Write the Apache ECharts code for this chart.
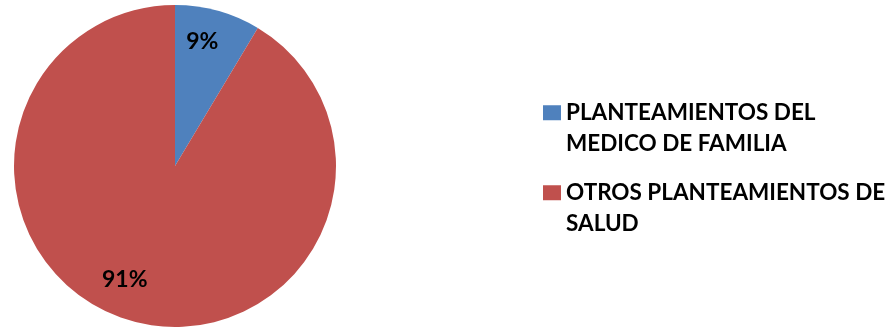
<!DOCTYPE html>
<html><head><meta charset="utf-8">
<script src="https://cdn.jsdelivr.net/npm/echarts@6/dist/echarts.min.js"></script>
<style>html,body{margin:0;padding:0;background:#fff}#c{width:896px;height:328px}</style>
</head><body><div id="c"></div>
<script>
var categories = ['PLANTEAMIENTOS DEL\nMEDICO DE FAMILIA', 'OTROS PLANTEAMIENTOS DE\nSALUD'];
var values = [8.6, 91.4];
var colors = ['#4F81BD', '#C0504D'];
var labelOffsets = [[5, -44], [-28, 33]];

var chart = echarts.init(document.getElementById('c'), null, {renderer: 'canvas'});
var font = 'Lato';
var data = categories.map(function (n, i) {
  return {name: n, value: values[i], itemStyle: {color: colors[i]}, label: {offset: labelOffsets[i]}};
});
function legend(i, top) {
  return {
    data: [categories[i]], orient: 'vertical', left: 538, top: top,
    itemWidth: 18, itemHeight: 15, icon: 'rect',
    formatter: function (n) { return ' \n' + n; },
    textStyle: {fontFamily: font, fontWeight: 'bold', fontSize: 22.5, color: '#000', lineHeight: 30.5},
    itemGap: 0
  };
}
chart.setOption({
  animation: false,
  legend: [legend(0, 62), legend(1, 142)],
  series: [{
    type: 'pie', center: [175, 166], radius: 161, startAngle: 90, clockwise: true,
    data: data,
    label: {position: 'inside', fontFamily: font, fontWeight: 'bold', fontSize: 23, color: '#000',
      formatter: function (p) { return Math.round(p.percent) + '%'; }},
    labelLine: {show: false},
    emphasis: {disabled: true}
  }]
});
</script></body></html>
